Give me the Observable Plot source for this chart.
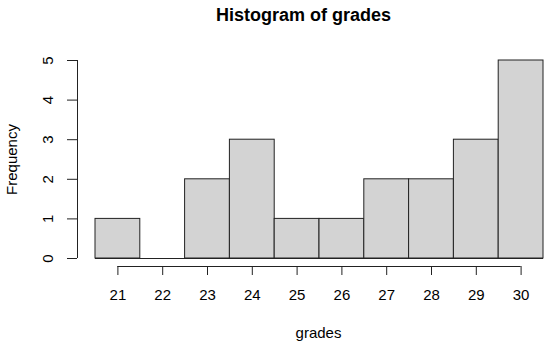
<!DOCTYPE html>
<html>
<head>
<meta charset="utf-8">
<script src="https://cdn.jsdelivr.net/npm/d3@7"></script>
<script src="https://cdn.jsdelivr.net/npm/@observablehq/plot@0.6"></script>
<style>
  body { margin: 0; background: #fff; }
  svg { font-family: "Liberation Sans", Arial, sans-serif; }
</style>
</head>
<body>
<div id="chart"></div>
<script>
// Data
const grades = [21, 22, 23, 24, 25, 26, 27, 28, 29, 30];
const counts = [1, 0, 2, 3, 1, 1, 2, 2, 3, 5];
const xTicks = [21, 22, 23, 24, 25, 26, 27, 28, 29, 30];
const yTicks = [0, 1, 2, 3, 4, 5];
const titleText = "Histogram of grades";
const xLabel = "grades";
const yLabel = "Frequency";

const bins = grades.map((g, i) => ({x1: g - 0.5, x2: g + 0.5, count: counts[i]}));
const lo = bins[0].x1, hi = bins[bins.length - 1].x2;

const chart = Plot.plot({
  width: 550,
  height: 345,
  marginLeft: 77,
  marginRight: 0,
  marginTop: 52,
  marginBottom: 79,
  style: {fontFamily: "'Liberation Sans', Arial, sans-serif", fontSize: "15px", color: "#000", background: "#fff"},
  x: {domain: [lo, hi], range: [95, 543]},
  y: {domain: [0, 5], range: [258, 60]},
  marks: [
    Plot.rectY(bins, {x1: "x1", x2: "x2", y: "count", fill: "#d3d3d3", stroke: "#222", strokeWidth: 1}),
    Plot.ruleY([0], {x1: lo, x2: hi, stroke: "#222"}),
    // x axis
    Plot.ruleY([0], {x1: xTicks[0], x2: xTicks[xTicks.length - 1], dy: 8, stroke: "#222"}),
    Plot.axisX({ticks: xTicks, tickSize: 9, tickFormat: () => "", label: null, stroke: "#222"}),
    Plot.text(xTicks, {x: d => d, frameAnchor: "bottom", dy: 29, text: d => String(d), fontSize: 15, textAnchor: "middle", lineAnchor: "middle", fill: "#000"}),
    // y axis
    Plot.ruleX([lo], {y1: yTicks[0], y2: yTicks[yTicks.length - 1], dx: -18, stroke: "#222"}),
    Plot.axisY({ticks: yTicks, tickSize: 10, tickFormat: () => "", label: null, stroke: "#222"}),
    Plot.text(yTicks, {y: d => d, frameAnchor: "left", dx: -29, text: d => String(d), fontSize: 15, rotate: -90, textAnchor: "middle", lineAnchor: "middle", fill: "#000"}),
    // labels
    Plot.text([titleText], {frameAnchor: "top-left", dx: 226, dy: -37, text: d => d, fontSize: 18, fontWeight: "bold", textAnchor: "middle", lineAnchor: "middle"}),
    Plot.text([xLabel], {frameAnchor: "bottom-left", dx: 241, dy: 67, text: d => d, fontSize: 15, textAnchor: "middle", lineAnchor: "middle"}),
    Plot.text([yLabel], {frameAnchor: "left", dx: -65, text: d => d, fontSize: 15, rotate: -90, textAnchor: "middle", lineAnchor: "middle"})
  ]
});
document.getElementById("chart").appendChild(chart);
</script>
</body>
</html>
